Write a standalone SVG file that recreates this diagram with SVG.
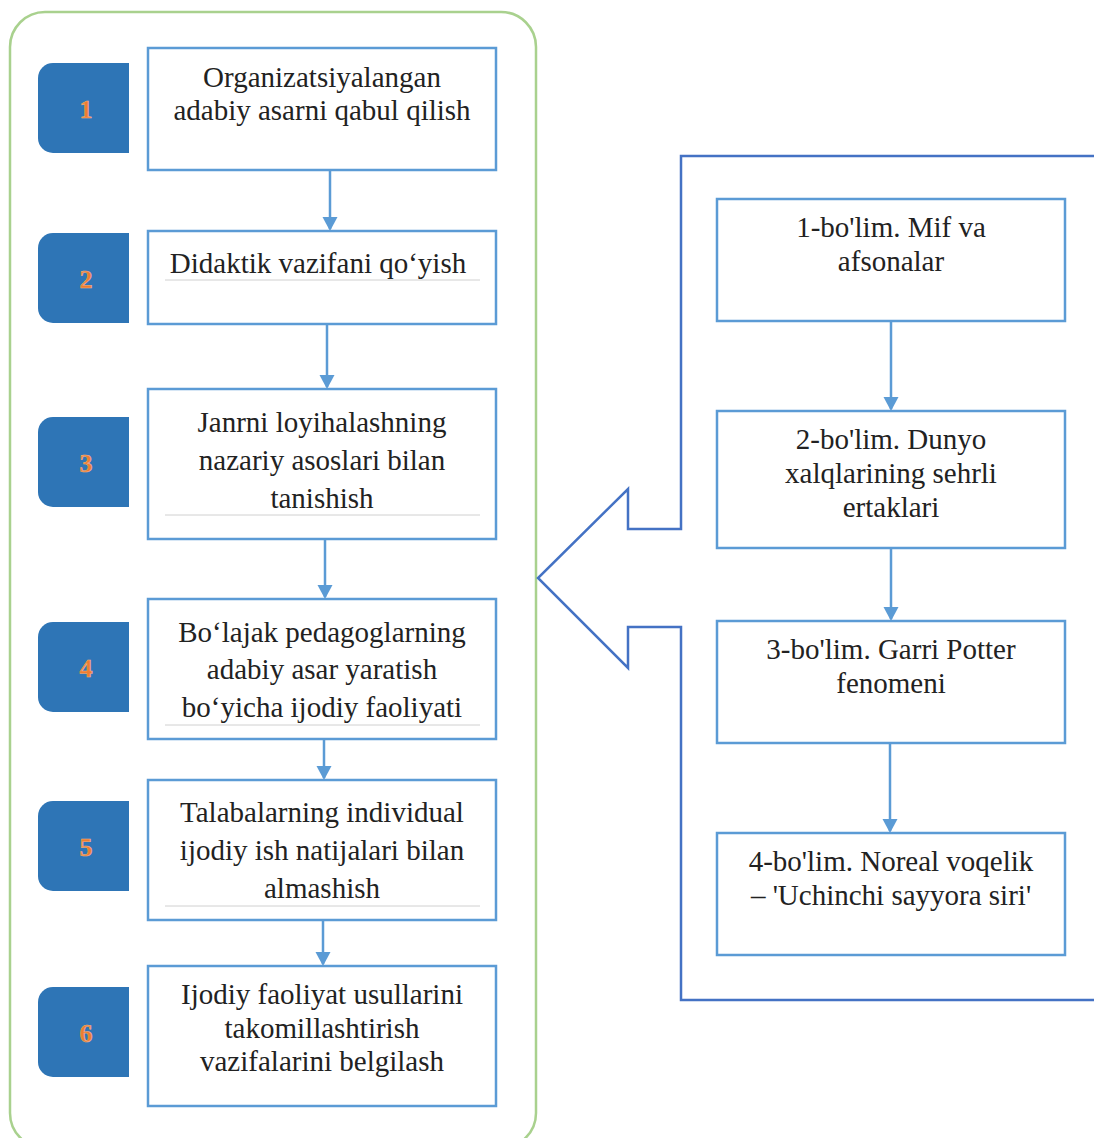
<svg xmlns="http://www.w3.org/2000/svg" width="1094" height="1138" viewBox="0 0 1094 1138">
<style>
.box{fill:#fff;stroke:#5B9BD5;stroke-width:2.5}
.badge{fill:#2E75B6}
.num{font-family:"Liberation Serif",serif;font-weight:bold;font-size:26px;fill:#ED7D31;stroke:#F4B183;stroke-width:0.6;text-anchor:middle}
.t{font-family:"Liberation Serif",serif;font-size:29px;fill:#222;text-anchor:middle}
.ul{stroke:#d0d0d0;stroke-width:1}
.conn{stroke:#5B9BD5;stroke-width:2.5;fill:none}
</style>
<defs>
<marker id="ah" markerWidth="14" markerHeight="16" refX="12" refY="8" orient="auto" markerUnits="userSpaceOnUse">
<path d="M0,0.5 L14,8 L0,15.5 Z" fill="#5B9BD5"/>
</marker>
</defs>
<rect x="0" y="0" width="1094" height="1138" fill="#fff"/>
<g id="frame">
<rect x="10" y="12" width="526" height="1136" rx="35" ry="35" fill="none" stroke="#A9D18E" stroke-width="2.5"/>
</g>
<g id="bigarrow">
<path d="M1094,156 H681 V529 H628 V489 L538,578 L628,668 V627 H681 V1000 H1094" fill="none" stroke="#4472C4" stroke-width="2.5"/>
</g>
<g id="connectors">
<line class="conn" x1="330" y1="170" x2="330" y2="229" marker-end="url(#ah)"/>
<line class="conn" x1="327" y1="324" x2="327" y2="387" marker-end="url(#ah)"/>
<line class="conn" x1="325" y1="539" x2="325" y2="597" marker-end="url(#ah)"/>
<line class="conn" x1="324" y1="739" x2="324" y2="778" marker-end="url(#ah)"/>
<line class="conn" x1="323" y1="920" x2="323" y2="964" marker-end="url(#ah)"/>
<line class="conn" x1="891" y1="321" x2="891" y2="409" marker-end="url(#ah)"/>
<line class="conn" x1="891" y1="548" x2="891" y2="619" marker-end="url(#ah)"/>
<line class="conn" x1="890" y1="743" x2="890" y2="831" marker-end="url(#ah)"/>
</g>
<g id="badge1"><path class="badge" d="M129,63 V153 H53 A15,15 0 0 1 38,138 V78 A15,15 0 0 1 53,63 Z"/><text class="num" x="86" y="118">1</text></g>
<g id="badge2"><path class="badge" d="M129,233 V323 H53 A15,15 0 0 1 38,308 V248 A15,15 0 0 1 53,233 Z"/><text class="num" x="86" y="288">2</text></g>
<g id="badge3"><path class="badge" d="M129,417 V507 H53 A15,15 0 0 1 38,492 V432 A15,15 0 0 1 53,417 Z"/><text class="num" x="86" y="472">3</text></g>
<g id="badge4"><path class="badge" d="M129,622 V712 H53 A15,15 0 0 1 38,697 V637 A15,15 0 0 1 53,622 Z"/><text class="num" x="86" y="677">4</text></g>
<g id="badge5"><path class="badge" d="M129,801 V891 H53 A15,15 0 0 1 38,876 V816 A15,15 0 0 1 53,801 Z"/><text class="num" x="86" y="856">5</text></g>
<g id="badge6"><path class="badge" d="M129,987 V1077 H53 A15,15 0 0 1 38,1062 V1002 A15,15 0 0 1 53,987 Z"/><text class="num" x="86" y="1042">6</text></g>
<g id="step1"><rect class="box" x="148" y="48" width="348" height="122"/>
<text class="t" x="322" y="87">Organizatsiyalangan</text><text class="t" x="322" y="120">adabiy asarni qabul qilish</text></g>
<g id="step2"><rect class="box" x="148" y="231" width="348" height="93"/>
<text class="t" x="318" y="273">Didaktik vazifani qo‘yish</text><line class="ul" x1="165" y1="280" x2="480" y2="280"/></g>
<g id="step3"><rect class="box" x="148" y="389" width="348" height="150"/>
<text class="t" x="322" y="432">Janrni loyihalashning</text><text class="t" x="322" y="470">nazariy asoslari bilan</text><text class="t" x="322" y="508">tanishish</text><line class="ul" x1="165" y1="515" x2="480" y2="515"/></g>
<g id="step4"><rect class="box" x="148" y="599" width="348" height="140"/>
<text class="t" x="322" y="642">Bo‘lajak pedagoglarning</text><text class="t" x="322" y="679">adabiy asar yaratish</text><text class="t" x="322" y="717">bo‘yicha ijodiy faoliyati</text><line class="ul" x1="165" y1="725" x2="480" y2="725"/></g>
<g id="step5"><rect class="box" x="148" y="780" width="348" height="140"/>
<text class="t" x="322" y="822">Talabalarning individual</text><text class="t" x="322" y="860">ijodiy ish natijalari bilan</text><text class="t" x="322" y="898">almashish</text><line class="ul" x1="165" y1="906" x2="480" y2="906"/></g>
<g id="step6"><rect class="box" x="148" y="966" width="348" height="140"/>
<text class="t" x="322" y="1004">Ijodiy faoliyat usullarini</text><text class="t" x="322" y="1038">takomillashtirish</text><text class="t" x="322" y="1071">vazifalarini belgilash</text></g>
<g id="part1"><rect class="box" x="717" y="199" width="348" height="122"/>
<text class="t" x="891" y="237">1-bo'lim. Mif va</text><text class="t" x="891" y="271">afsonalar</text></g>
<g id="part2"><rect class="box" x="717" y="411" width="348" height="137"/>
<text class="t" x="891" y="449">2-bo'lim. Dunyo</text><text class="t" x="891" y="483">xalqlarining sehrli</text><text class="t" x="891" y="517">ertaklari</text></g>
<g id="part3"><rect class="box" x="717" y="621" width="348" height="122"/>
<text class="t" x="891" y="659">3-bo'lim. Garri Potter</text><text class="t" x="891" y="693">fenomeni</text></g>
<g id="part4"><rect class="box" x="717" y="833" width="348" height="122"/>
<text class="t" x="891" y="871">4-bo'lim. Noreal voqelik</text><text class="t" x="891" y="905">– 'Uchinchi sayyora siri'</text></g>
</svg>
